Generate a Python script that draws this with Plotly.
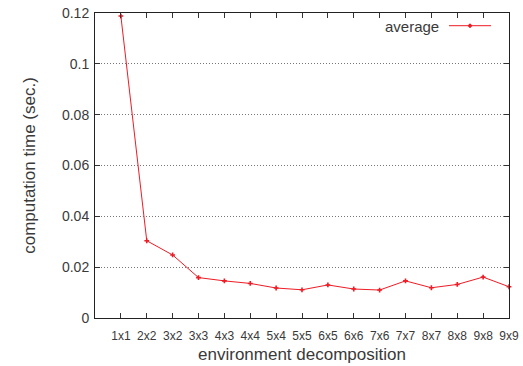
import plotly.graph_objects as go

categories = ["1x1", "2x2", "3x2", "3x3", "4x3", "4x4", "5x4", "5x5",
              "6x5", "6x6", "7x6", "7x7", "8x7", "8x8", "9x8", "9x9"]
average = [0.1188, 0.0304, 0.0248, 0.0159, 0.0146, 0.0136, 0.0118, 0.0111,
           0.0130, 0.0114, 0.0110, 0.0146, 0.0119, 0.0132, 0.0161, 0.0123]
y_ticks = [0, 0.02, 0.04, 0.06, 0.08, 0.1, 0.12]
y_labels = ["0", "0.02", "0.04", "0.06", "0.08", "0.1", "0.12"]

RED = "#ee1c25"
FONT = "Liberation Sans, Arial, sans-serif"
TXT = "#3a3a3a"

L, R, T, B = 95, 509, 13, 318
PW, PH = R - L, B - T

fig = go.Figure()
fig.add_trace(go.Scatter(
    x=list(range(len(categories))), y=average, mode="lines+markers",
    name="average", showlegend=False,
    line=dict(color=RED, width=1),
    marker=dict(symbol="cross", size=4, color=RED),
    cliponaxis=False,
))

fig.update_layout(
    width=523, height=366,
    margin=dict(l=L, r=523 - R, t=T, b=366 - B, autoexpand=False),
    plot_bgcolor="white", paper_bgcolor="white",
    font=dict(family=FONT, color=TXT, size=12),
)
fig.update_xaxes(
    range=[-1, len(categories) - 1],
    tickmode="array", tickvals=list(range(len(categories))), ticktext=categories,
    ticks="inside", ticklen=5, tickcolor="#333",
    showline=True, linecolor="#222", linewidth=1, mirror="ticks",
    showgrid=False, zeroline=False, automargin=False,
    tickfont=dict(size=12, color=TXT), ticklabelstandoff=7,
    title=dict(text="environment decomposition", font=dict(size=17, color=TXT), standoff=5),
)
fig.update_yaxes(
    range=[0, 0.12],
    tickmode="array", tickvals=y_ticks, ticktext=y_labels,
    ticks="inside", ticklen=5, tickcolor="#333",
    showline=True, linecolor="#222", linewidth=1, mirror="ticks",
    showgrid=True, gridcolor="#777", griddash="1px,2px", gridwidth=1,
    zeroline=False, automargin=False,
    tickfont=dict(size=14, color=TXT), ticklabelstandoff=2,
    title=dict(text="computation time (sec.)", font=dict(size=17, color=TXT), standoff=22),
)

# gnuplot-style legend: text then sample line with marker
fig.add_annotation(xref="paper", yref="paper", x=(441 - L) / PW, y=(B - 26) / PH,
                   text="average", showarrow=False, xanchor="right", yanchor="middle",
                   font=dict(size=15, color=TXT))
x0, x1 = (449 - L) / PW, (491 - L) / PW
ly = (B - 25.7) / PH
fig.add_shape(type="line", xref="paper", yref="paper", x0=x0, x1=x1, y0=ly, y1=ly,
              line=dict(color=RED, width=1))
xm = (470 - L) / PW
fig.add_shape(type="line", xref="paper", yref="paper", x0=xm - 2 / PW, x1=xm + 2 / PW,
              y0=ly, y1=ly, line=dict(color=RED, width=2))
fig.add_shape(type="line", xref="paper", yref="paper", x0=xm, x1=xm,
              y0=ly - 2 / PH, y1=ly + 2 / PH, line=dict(color=RED, width=2))

fig.write_html("out.html", config={"displayModeBar": False},
               post_script="document.body.style.margin='0';document.body.style.overflow='hidden';")
